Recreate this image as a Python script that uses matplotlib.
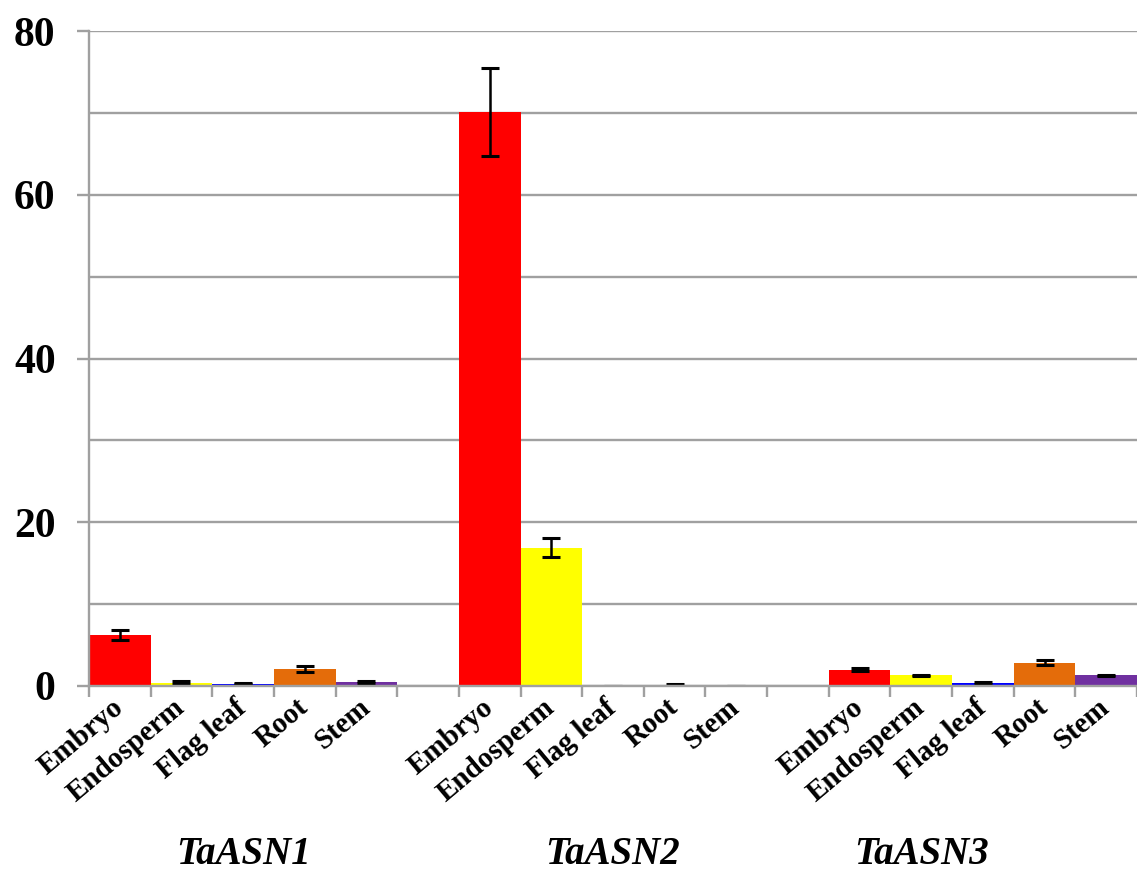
import matplotlib
matplotlib.use("Agg")
import matplotlib.pyplot as plt
import matplotlib.transforms as mtransforms
import numpy as np

# ---- data ----
tissues = ["Embryo", "Endosperm", "Flag leaf", "Root", "Stem"]
genes = ["TaASN1", "TaASN2", "TaASN3"]
asn1_mean = [6.2, 0.4, 0.3, 2.1, 0.5]
asn1_err = [0.6, 0.15, 0.1, 0.35, 0.15]
asn2_mean = [70.1, 16.9, 0.05, 0.15, 0.05]
asn2_err = [5.4, 1.2, 0.0, 0.1, 0.0]
asn3_mean = [2.0, 1.3, 0.35, 2.85, 1.3]
asn3_err = [0.2, 0.1, 0.1, 0.3, 0.1]
tissue_colors = ["#FF0000", "#FFFF00", "#0000FF", "#E46C0A", "#7030A0"]

means = [asn1_mean, asn2_mean, asn3_mean]
errs = [asn1_err, asn2_err, asn3_err]

plt.rcParams["font.family"] = "Liberation Serif"
plt.rcParams["font.weight"] = "bold"

W, H = 1137, 873
fig = plt.figure(figsize=(W / 100, H / 100), dpi=100)
ax = fig.add_axes([89 / W, (H - 686) / H, (W - 89) / W, (686 - 31) / H])

gray = "#a0a0a0"
n_t = len(tissues)
slot = n_t + 1
positions, labels = [], []
for g, (m, e) in enumerate(zip(means, errs)):
    x = np.arange(n_t) + g * slot
    ax.bar(x, m, width=1.0, color=tissue_colors, edgecolor="none", zorder=2)
    ax.errorbar(x, m, yerr=e, fmt="none", ecolor="black", elinewidth=1.8,
                capsize=6.5, capthick=2.2, zorder=3)
    positions.extend(x)
    labels.extend(tissues)

total = len(genes) * slot - 1
ax.set_xlim(-0.5, -0.5 + (W - 89) / 62.25)
ax.set_ylim(0, 80)

ax.set_yticks(np.arange(0, 81, 20))
ax.set_yticks(np.arange(0, 81, 10), minor=True)
ax.yaxis.grid(True, which="both", color=gray, linewidth=1.7, zorder=0)
ax.set_axisbelow(True)
ax.tick_params(axis="y", which="both", length=9, width=1.7, color=gray,
               labelsize=30, pad=15)
ax.tick_params(axis="y", which="minor", length=0)

ax.set_xticks(positions)
ax.set_xticklabels(labels, rotation=40, ha="right", va="center",
                   rotation_mode="anchor", fontsize=21)
ax.set_xticks(np.arange(-0.5, total + 0.5, 1.0), minor=True)
ax.tick_params(axis="x", which="major", length=0, pad=13)
ax.tick_params(axis="x", which="minor", length=8, width=1.7, color=gray)

for s in ["top", "right"]:
    ax.spines[s].set_visible(False)
for s in ["left", "bottom"]:
    ax.spines[s].set_color(gray)
    ax.spines[s].set_linewidth(1.7)
    ax.spines[s].set_zorder(4)

trans = mtransforms.blended_transform_factory(ax.transData, fig.transFigure)
group_x = [2, 8, 13]
for gx, name in zip(group_x, genes):
    ax.text(gx, 1 - 854 / H, name, transform=trans, fontsize=28,
            style="italic", fontweight="bold", ha="center", va="center")

fig.savefig("out.png", dpi=100)
